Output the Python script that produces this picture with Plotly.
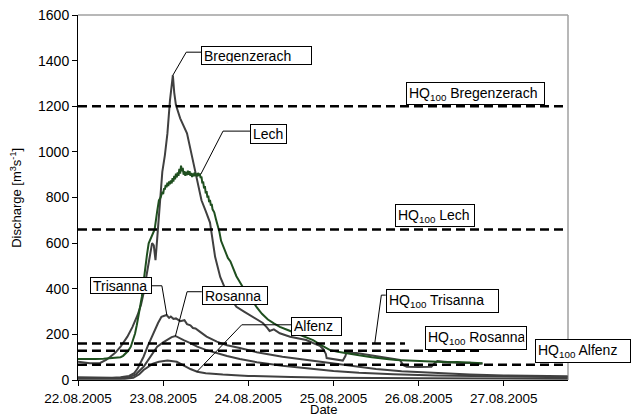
import plotly.graph_objects as go
import pandas as pd

BASE = pd.Timestamp("2005-08-22 00:00")

# ---- data (time in days after 22.08.2005 00:00, discharge in m3/s) ----
breg_t = [0.00, 0.07, 0.14, 0.26, 0.33, 0.38, 0.44, 0.50, 0.58, 0.64, 0.70, 0.74, 0.77, 0.81,
          0.85, 0.87, 0.89, 0.91, 0.93, 0.945, 0.965, 0.99, 1.02, 1.05, 1.08, 1.10, 1.114, 1.13,
          1.15, 1.20, 1.28, 1.34, 1.40, 1.45, 1.50, 1.55, 1.61, 1.67, 1.75, 1.86, 1.95, 2.02,
          2.10, 2.17, 2.22, 2.25, 2.30, 2.37, 2.49, 2.60, 2.68, 2.76, 2.84, 2.88, 2.91, 2.92,
          3.00, 3.11, 3.14, 3.15, 3.27, 3.40, 3.54, 3.65, 3.78, 3.82, 3.86, 4.00, 4.15, 4.19,
          4.22, 4.30, 4.40, 4.50, 4.60, 4.70, 4.75]
breg_q = [80, 78, 73, 75, 88, 102, 120, 146, 190, 233, 285, 330, 380, 470,
          556, 600, 590, 525, 620, 700, 788, 912, 985, 1081, 1226, 1300, 1336, 1260,
          1205, 1147, 1081, 978, 876, 788, 740, 690, 540, 452, 381, 321, 300, 285,
          268, 250, 230, 215, 222, 205, 190, 182, 175, 162, 150, 135, 115, 96,
          90, 85, 105, 118, 118, 110, 102, 95, 88, 65, 58, 57, 58, 75,
          83, 80, 78, 74, 76, 70, 72]

lech_t = [0.00, 0.10, 0.20, 0.30, 0.38, 0.45, 0.50, 0.53, 0.56, 0.59, 0.62, 0.645, 0.67, 0.69,
          0.71, 0.73, 0.75, 0.77, 0.79, 0.81, 0.83, 0.85, 0.87, 0.90, 0.93, 0.95, 0.97, 0.99,
          1.00, 1.01, 1.02, 1.03, 1.04, 1.05, 1.06, 1.07, 1.08, 1.09, 1.10, 1.11, 1.12, 1.13,
          1.14, 1.15, 1.16, 1.17, 1.18, 1.19, 1.20, 1.21, 1.22, 1.23, 1.24, 1.25, 1.26, 1.27,
          1.28, 1.29, 1.30, 1.31, 1.32, 1.33, 1.34, 1.35, 1.36, 1.37, 1.38, 1.39, 1.40, 1.41,
          1.42, 1.43, 1.44, 1.45, 1.46, 1.47, 1.48, 1.49, 1.50, 1.51, 1.52, 1.53, 1.54, 1.55,
          1.56, 1.57, 1.58, 1.60, 1.62, 1.64, 1.66, 1.68, 1.70, 1.73, 1.76, 1.79, 1.82, 1.86,
          1.90, 1.95, 2.00, 2.05, 2.10, 2.16, 2.23, 2.30, 2.37, 2.47, 2.57, 2.67, 2.76, 2.86,
          2.96, 3.05, 3.15, 3.30, 3.45, 3.54, 3.65, 3.74, 3.85, 3.95, 4.05, 4.15, 4.25, 4.35,
          4.45, 4.55, 4.65, 4.75]
lech_q = [92, 91, 92, 93, 95, 97, 100, 106, 115, 128, 146, 172, 204, 240,
          277, 320, 365, 430, 496, 550, 599, 615, 630, 660, 740, 788, 800, 825,
          815, 840, 835, 855, 845, 865, 850, 870, 858, 875, 862, 885, 870, 895,
          880, 905, 888, 910, 895, 925, 905, 940, 915, 930, 900, 915, 895, 912,
          898, 918, 900, 915, 895, 908, 890, 905, 893, 910, 895, 905, 892, 908,
          895, 905, 885, 892, 862, 870, 840, 850, 818, 828, 800, 808, 780, 790,
          765, 772, 748, 735, 705, 680, 650, 610, 590, 560, 535, 520, 490, 455,
          430, 398, 375, 345, 318, 290, 265, 248, 233, 218, 204, 190, 175, 152,
          131, 124, 117, 108, 100, 95, 91, 88, 86, 84, 82, 80, 81, 78,
          79, 76, 75, 73]

tris_t = [0.00, 0.20, 0.40, 0.50, 0.60, 0.66, 0.70, 0.74, 0.77, 0.82, 0.88, 0.94, 0.98, 1.02,
          1.04, 1.07, 1.09, 1.12, 1.15, 1.20, 1.25, 1.28, 1.32, 1.35, 1.38, 1.43, 1.51, 1.63,
          1.75, 1.90, 2.10, 2.40, 2.70, 2.96, 3.20, 3.50, 3.80, 4.20, 4.60, 5.00, 5.40, 5.75]
tris_q = [12, 10, 10, 12, 18, 30, 50, 80, 102, 150, 204, 250, 277, 282,
          285, 272, 278, 268, 270, 258, 262, 245, 240, 228, 226, 212, 190, 168,
          152, 140, 122, 102, 88, 75, 62, 48, 38, 30, 24, 20, 18, 16]

ros_t = [0.00, 0.50, 0.60, 0.68, 0.77, 0.85, 0.93, 1.00, 1.05, 1.10, 1.144, 1.18, 1.24, 1.30,
         1.40, 1.50, 1.60, 1.75, 1.90, 2.10, 2.40, 2.70, 3.00, 3.30, 3.70, 4.20, 4.80, 5.75]
ros_q = [8, 8, 12, 25, 58, 105, 146, 165, 178, 188, 193, 185, 175, 165,
         146, 132, 120, 105, 92, 78, 62, 50, 40, 32, 25, 20, 16, 12]

alf_t = [0.00, 0.55, 0.65, 0.72, 0.77, 0.88, 0.95, 1.05, 1.16, 1.25, 1.32, 1.40, 1.50, 1.70,
         2.00, 2.50, 3.00, 4.00, 5.75]
alf_q = [5, 5, 10, 25, 44, 72, 80, 85, 80, 62, 48, 36, 30, 24,
         18, 13, 10, 8, 6]

# HQ100 design discharges and the day at which each dashed line ends
hq_names = ["Bregenzerach", "Lech", "Trisanna", "Rosanna", "Alfenz"]
hq_values = [1200, 660, 160, 128, 67]
hq_end = [5.754, 5.754, 3.84, 4.72, 5.754]

tick_days = [0, 1, 2, 3, 4, 5]
x_end_day = 5.754
x_title = "Date"
y_title = "Discharge [m<sup>3</sup>s<sup>-1</sup>]"


def T(days):
    if isinstance(days, (list, tuple)):
        return [BASE + pd.Timedelta(days=float(d)) for d in days]
    return BASE + pd.Timedelta(days=float(days))


GRAY = "#404040"
GREEN = "#1f4f1f"
FONT = "Liberation Sans, Arial, sans-serif"

fig = go.Figure()
series = [
    ("Bregenzerach", breg_t, breg_q, GRAY),
    ("Lech", lech_t, lech_q, GREEN),
    ("Trisanna", tris_t, tris_q, GRAY),
    ("Rosanna", ros_t, ros_q, GRAY),
    ("Alfenz", alf_t, alf_q, GRAY),
]
for name, t, q, col in series:
    fig.add_trace(go.Scatter(x=T(t), y=q, mode="lines", name=name,
                             line=dict(color=col, width=2), showlegend=False))

for name, v, e in zip(hq_names, hq_values, hq_end):
    fig.add_trace(go.Scatter(x=T([0, e]), y=[v, v], mode="lines", name="HQ100 " + name,
                             line=dict(color="black", width=2.5, dash="9px,5px"),
                             showlegend=False))

# ---- label boxes: (text, left day, top value, box width px, box height px) ----
labels = [
    ("Bregenzerach", 1.445, 1464, 110.7, 19.3),
    ("Lech", 2.023, 1121, 37.4, 20),
    ("HQ<sub>100</sub> Bregenzerach", 3.849, 1305, 139.3, 23.3),
    ("HQ<sub>100</sub> Lech", 3.728, 771, 80.3, 23.3),
    ("HQ<sub>100</sub> Trisanna", 3.614, 397, 112.7, 23.7),
    ("HQ<sub>100</sub> Rosanna", 4.080, 238, 102.3, 24.3),
    ("HQ<sub>100</sub> Alfenz", 5.361, 178, 96, 24),
    ("Trisanna", 0.136, 450, 62.4, 17),
    ("Rosanna", 1.454, 412, 65.6, 19.3),
    ("Alfenz", 2.501, 275, 51.3, 18.7),
]
for text, xd, yv, w, h in labels:
    fig.add_annotation(x=T(xd), y=yv, xref="x", yref="y", text=text, showarrow=False,
                       xanchor="left", yanchor="top", align="left", valign="middle",
                       width=w - 6, height=h - 6, borderpad=2, borderwidth=1,
                       bordercolor="black", bgcolor="white",
                       font=dict(family=FONT, size=14, color="black"))

# axis titles placed as paper annotations
fig.add_annotation(x=0.5, y=-0.1068, xref="paper", yref="paper", text=x_title, showarrow=False,
                   xanchor="center", yanchor="bottom",
                   font=dict(family=FONT, size=13, color="black"))
fig.add_annotation(x=-0.128, y=0.5, xref="paper", yref="paper", text=y_title, showarrow=False,
                   xanchor="center", yanchor="middle", textangle=-90,
                   font=dict(family=FONT, size=13, color="black"))

# ---- leader lines (day, value) polylines ----
leaders = [
    [(1.114, 1336), (1.271, 1437), (1.445, 1437)],
    [(1.442, 902), (1.703, 1091), (2.023, 1091)],
    [(1.043, 285), (0.985, 413), (0.868, 413)],
    [(1.144, 193), (1.281, 387), (1.454, 387)],
    [(1.395, 36), (1.923, 242), (2.501, 242)],
    [(3.485, 161), (3.562, 372), (3.614, 372)],
]
shapes = []
for pts in leaders:
    for (x0, y0), (x1, y1) in zip(pts[:-1], pts[1:]):
        shapes.append(dict(type="line", xref="x", yref="y", x0=T(x0), y0=y0, x1=T(x1), y1=y1,
                           line=dict(color="black", width=1), layer="above"))
# gray frame on top and right
shapes.append(dict(type="line", xref="paper", yref="paper", x0=0, y0=1, x1=1, y1=1,
                   line=dict(color="#a0a0a0", width=1.5), layer="below"))
shapes.append(dict(type="line", xref="paper", yref="paper", x0=1, y0=0, x1=1, y1=1,
                   line=dict(color="#a0a0a0", width=1.5), layer="below"))

fig.update_layout(
    width=631, height=419,
    margin=dict(l=78, r=63, t=15, b=39, pad=0),
    paper_bgcolor="white", plot_bgcolor="white",
    font=dict(family=FONT, size=14, color="black"),
    shapes=shapes,
    showlegend=False,
)
fig.update_xaxes(
    type="date", range=[T(0), T(x_end_day)],
    tickvals=T(tick_days), tickformat="%d.%m.%Y",
    ticks="outside", ticklen=5, tickcolor="black", tickwidth=1,
    showline=True, linecolor="black", linewidth=1, showgrid=False, zeroline=False,
    tickfont=dict(size=13.5, family=FONT), ticklabelstandoff=1,
    automargin=False,
)
fig.update_yaxes(
    range=[0, 1600], tickmode="linear", tick0=0, dtick=200,
    ticks="outside", ticklen=5, tickcolor="black", tickwidth=1,
    showline=True, linecolor="black", linewidth=1, showgrid=False, zeroline=False,
    tickfont=dict(size=14, family=FONT),
    automargin=False,
)

fig.write_html("out.html")
